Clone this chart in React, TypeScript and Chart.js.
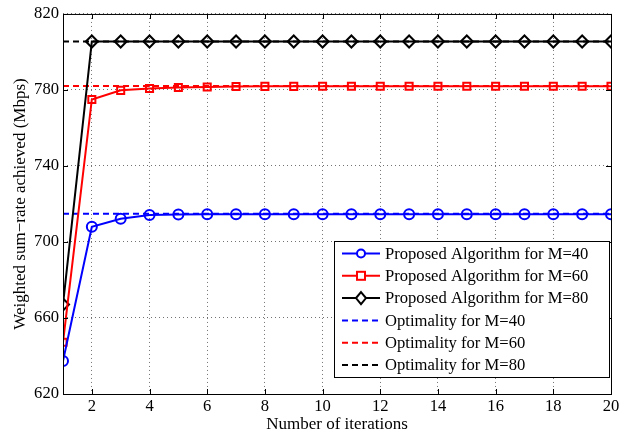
import React, { useEffect, useRef } from "react";
import { Chart, registerables } from "chart.js";

Chart.register(...registerables);

const iterations = [1, 2, 3, 4, 5, 6, 7, 8, 9, 10, 11, 12, 13, 14, 15, 16, 17, 18, 19, 20];
const proposedM40 = [637.4, 708, 712.2, 714.2, 714.5, 714.6, 714.6, 714.6, 714.6, 714.6, 714.6, 714.6, 714.6, 714.6, 714.6, 714.6, 714.6, 714.6, 714.6, 714.6];
const proposedM60 = [647.2, 775, 779.8, 780.8, 781.3, 781.6, 781.8, 781.9, 781.9, 782, 782, 782, 782, 782, 782, 782, 782, 782, 782, 782];
const proposedM80 = [667.1, 805.5, 805.5, 805.5, 805.5, 805.5, 805.5, 805.5, 805.5, 805.5, 805.5, 805.5, 805.5, 805.5, 805.5, 805.5, 805.5, 805.5, 805.5, 805.5];
const optimalM40 = 714.8;
const optimalM60 = 782.1;
const optimalM80 = 805.5;
const xTicks = [2, 4, 6, 8, 10, 12, 14, 16, 18, 20];
const yTicks = [620, 660, 700, 740, 780, 820];
const seriesLabels = [
  "Proposed Algorithm for M=40",
  "Proposed Algorithm for M=60",
  "Proposed Algorithm for M=80",
  "Optimality for M=40",
  "Optimality for M=60",
  "Optimality for M=80",
];

const FONT = "'Liberation Serif', 'Times New Roman', serif";

const framePlugin = {
  id: "frame",
  afterDraw(chart: any) {
    const { ctx, chartArea } = chart;
    const { left, right, top, bottom } = chartArea;
    const xs = chart.scales.x;
    const ys = chart.scales.y;
    ctx.save();
    ctx.strokeStyle = "#000";
    ctx.lineWidth = 1;
    ctx.setLineDash([]);
    ctx.strokeRect(left + 0.5, top + 0.5, right - left, bottom - top);
    // inward ticks
    const tl = 5;
    ctx.beginPath();
    xTicks.forEach((v) => {
      const px = Math.round(xs.getPixelForValue(v)) + 0.5;
      ctx.moveTo(px, bottom);
      ctx.lineTo(px, bottom - tl);
      ctx.moveTo(px, top);
      ctx.lineTo(px, top + tl);
    });
    yTicks.forEach((v) => {
      const py = Math.round(ys.getPixelForValue(v)) + 0.5;
      ctx.moveTo(left, py);
      ctx.lineTo(left + tl, py);
      ctx.moveTo(right, py);
      ctx.lineTo(right - tl, py);
    });
    ctx.stroke();

    // legend
    const lx = 334, ly = 241, lw = 275, lh = 136;
    ctx.fillStyle = "#fff";
    ctx.fillRect(lx, ly, lw, lh);
    ctx.strokeStyle = "#000";
    ctx.lineWidth = 1;
    ctx.strokeRect(lx + 0.5, ly + 0.5, lw, lh);
    const colors = ["#0000ff", "#ff0000", "#000000", "#0000ff", "#ff0000", "#000000"];
    const markers = ["circle", "rect", "rectRot", null, null, null];
    const rowY0 = 253.5;
    const rowStep = 22.3;
    ctx.font = `16.6px ${FONT}`;
    ctx.textBaseline = "middle";
    seriesLabels.forEach((lab, i) => {
      const y = rowY0 + i * rowStep;
      ctx.strokeStyle = colors[i];
      ctx.lineWidth = 2;
      ctx.setLineDash(i >= 3 ? [6, 4] : []);
      ctx.beginPath();
      ctx.moveTo(342, y);
      ctx.lineTo(380, y);
      ctx.stroke();
      ctx.setLineDash([]);
      const m = markers[i];
      const cx = 361;
      if (m === "circle") {
        ctx.fillStyle = "#fff";
        ctx.beginPath();
        ctx.arc(cx, y, 4, 0, Math.PI * 2);
        ctx.fill();
        ctx.stroke();
      } else if (m === "rect") {
        ctx.fillStyle = "#fff";
        ctx.fillRect(cx - 4, y - 4, 8, 8);
        ctx.strokeRect(cx - 4, y - 4, 8, 8);
      } else if (m === "rectRot") {
        ctx.fillStyle = "#fff";
        ctx.beginPath();
        ctx.moveTo(cx, y - 6);
        ctx.lineTo(cx + 5, y);
        ctx.lineTo(cx, y + 6);
        ctx.lineTo(cx - 5, y);
        ctx.closePath();
        ctx.fill();
        ctx.stroke();
      }
      ctx.fillStyle = "#000";
      ctx.fillText(lab, 385, y + 1);
    });
    ctx.restore();
  },
};

export default function App() {
  const ref = useRef<HTMLCanvasElement>(null);
  useEffect(() => {
    document.body.style.margin = "0";
    const canvas = ref.current!;
    const pts = (arr: number[]) => iterations.map((x, i) => ({ x, y: arr[i] }));
    const flat = (v: number) => iterations.map((x) => ({ x, y: v }));
    const solid = (label: string, data: any, color: string, style: string, radius: number) => ({
      label,
      data,
      borderColor: color,
      backgroundColor: "transparent",
      borderWidth: 2,
      pointStyle: style,
      pointRadius: radius,
      pointBorderWidth: 2,
      pointBorderColor: color,
      pointBackgroundColor: "transparent",
      tension: 0,
    });
    const dashed = (label: string, data: any, color: string) => ({
      label,
      data,
      borderColor: color,
      borderWidth: 2,
      borderDash: [6, 4],
      pointRadius: 0,
      tension: 0,
    });
    const chart = new Chart(canvas, {
      type: "line",
      data: {
        datasets: [
          solid(seriesLabels[0], pts(proposedM40), "#0000ff", "circle", 5),
          solid(seriesLabels[1], pts(proposedM60), "#ff0000", "rect", 5),
          solid(seriesLabels[2], pts(proposedM80), "#000000", "rectRot", 6),
          dashed(seriesLabels[3], flat(optimalM40), "#0000ff"),
          dashed(seriesLabels[4], flat(optimalM60), "#ff0000"),
          dashed(seriesLabels[5], flat(optimalM80), "#000000"),
        ] as any,
      },
      options: {
        animation: false,
        responsive: false,
        devicePixelRatio: 1,
        layout: { padding: { top: 12, right: 20, left: 0, bottom: 0 } },
        plugins: { legend: { display: false }, tooltip: { enabled: false } },
        scales: {
          x: {
            type: "linear",
            min: 1,
            max: 20,
            afterBuildTicks: (s: any) => {
              s.ticks = xTicks.map((v) => ({ value: v }));
            },
            afterFit: (s: any) => {
              s.height = 44;
            },
            grid: {
              color: "rgba(0,0,0,0.55)",
              lineWidth: 1,
              drawTicks: false,
            },
            border: { display: false, dash: [1, 3] } as any,
            ticks: {
              color: "#000",
              font: { family: FONT, size: 16.6 },
              padding: 3,
              maxRotation: 0,
              autoSkip: false,
            },
            title: {
              display: true,
              text: "Number of iterations",
              color: "#000",
              font: { family: FONT, size: 17 },
              padding: { top: 0, bottom: 3 },
            },
          },
          y: {
            type: "linear",
            min: 620,
            max: 820,
            afterBuildTicks: (s: any) => {
              s.ticks = yTicks.map((v) => ({ value: v }));
            },
            afterFit: (s: any) => {
              s.width = 63;
            },
            grid: {
              color: "rgba(0,0,0,0.55)",
              lineWidth: 1,
              drawTicks: false,
            },
            border: { display: false, dash: [1, 3] } as any,
            ticks: {
              color: "#000",
              font: { family: FONT, size: 16.6 },
              padding: 4,
              autoSkip: false,
            },
            title: {
              display: true,
              text: "Weighted sum\u2212rate achieved (Mbps)",
              color: "#000",
              font: { family: FONT, size: 17 },
              padding: { top: 10, bottom: 0 },
            },
          },
        },
      },
      plugins: [framePlugin],
    } as any);
    return () => chart.destroy();
  }, []);
  return <canvas ref={ref} width={631} height={438} style={{ display: "block", width: 631, height: 438 }} />;
}
